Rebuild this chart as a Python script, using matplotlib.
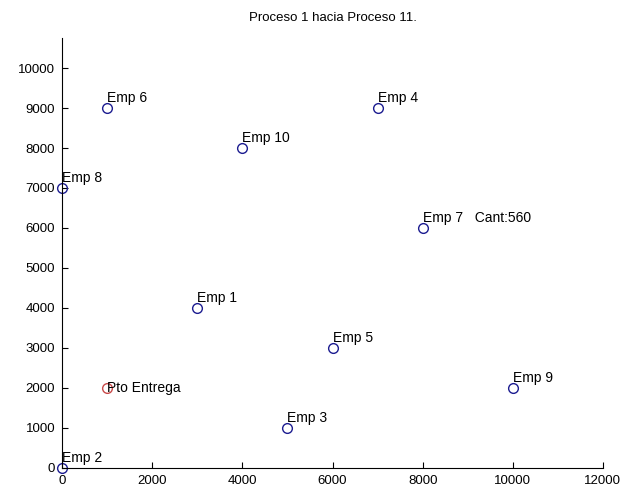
import matplotlib
matplotlib.use('Agg')
import matplotlib.pyplot as plt

# === Data ===
emp_names = ['Emp 1', 'Emp 2', 'Emp 3', 'Emp 4', 'Emp 5', 'Emp 6', 'Emp 7   Cant:560', 'Emp 8', 'Emp 9', 'Emp 10']
emp_x = [3000, 0, 5000, 7000, 6000, 1000, 8000, 0, 10000, 4000]
emp_y = [4000, 0, 1000, 9000, 3000, 9000, 6000, 7000, 2000, 8000]
entrega_name = 'Pto Entrega'
entrega_x = [1000]
entrega_y = [2000]
x_ticks = [0, 2000, 4000, 6000, 8000, 10000, 12000]
y_ticks = [0, 1000, 2000, 3000, 4000, 5000, 6000, 7000, 8000, 9000, 10000]

plt.rcParams['font.family'] = ['Liberation Sans', 'DejaVu Sans']

fig = plt.figure(figsize=(6.34, 4.95), dpi=100)
ax = fig.add_axes([0.098, 0.055, 0.853, 0.868])

# markers (not clipped, like the original at the axis edges)
ax.plot(emp_x, emp_y, 'o', mfc='none', mec='#1c1c90', ms=7, mew=1.0, clip_on=False)
ax.plot(entrega_x, entrega_y, 'o', mfc='none', mec='#c84a4a', ms=7, mew=1.0, clip_on=False)

for name, x, y in zip(emp_names, emp_x, emp_y):
    ax.text(x, y + 240, name, fontsize=10, ha='left', va='center')
ax.text(entrega_x[0], entrega_y[0], entrega_name, fontsize=10, ha='left', va='center')

ax.set_xlim(0, 12000)
ax.set_ylim(0, 10750)
ax.set_xticks(x_ticks)
ax.set_yticks(y_ticks)
ax.tick_params(direction='in', length=4, labelsize=9.5, pad=5)
ax.spines['top'].set_visible(False)
ax.spines['right'].set_visible(False)
ax.set_title('Proceso 1 hacia Proceso 11.', fontsize=9.5, pad=12)

fig.savefig('out.png', dpi=100)
